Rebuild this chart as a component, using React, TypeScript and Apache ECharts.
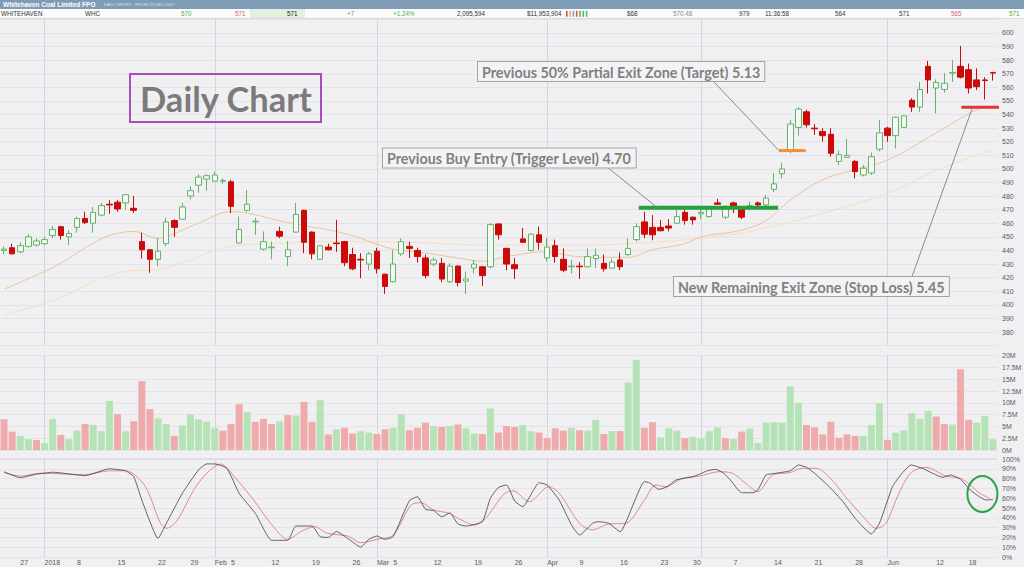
import React, { useEffect, useRef } from 'react';
import * as echarts from 'echarts';

// ---------- DATA ----------
const dates = [
  '2017-12-21','2017-12-22','2017-12-27','2017-12-28','2017-12-29',
  '2018-01-02','2018-01-03','2018-01-04','2018-01-05',
  '2018-01-08','2018-01-09','2018-01-10','2018-01-11','2018-01-12',
  '2018-01-15','2018-01-16','2018-01-17','2018-01-18','2018-01-19',
  '2018-01-22','2018-01-23','2018-01-24','2018-01-25',
  '2018-01-29','2018-01-30','2018-01-31',
  '2018-02-01','2018-02-02',
  '2018-02-05','2018-02-06','2018-02-07','2018-02-08','2018-02-09',
  '2018-02-12','2018-02-13','2018-02-14','2018-02-15','2018-02-16',
  '2018-02-19','2018-02-20','2018-02-21','2018-02-22','2018-02-23',
  '2018-02-26','2018-02-27','2018-02-28',
  '2018-03-01','2018-03-02',
  '2018-03-05','2018-03-06','2018-03-07','2018-03-08','2018-03-09',
  '2018-03-12','2018-03-13','2018-03-14','2018-03-15','2018-03-16',
  '2018-03-19','2018-03-20','2018-03-21','2018-03-22','2018-03-23',
  '2018-03-26','2018-03-27','2018-03-28','2018-03-29',
  '2018-04-03','2018-04-04','2018-04-05','2018-04-06',
  '2018-04-09','2018-04-10','2018-04-11','2018-04-12','2018-04-13',
  '2018-04-16','2018-04-17','2018-04-18','2018-04-19','2018-04-20',
  '2018-04-23','2018-04-24','2018-04-26','2018-04-27',
  '2018-04-30',
  '2018-05-01','2018-05-02','2018-05-03','2018-05-04',
  '2018-05-07','2018-05-08','2018-05-09','2018-05-10','2018-05-11',
  '2018-05-14','2018-05-15','2018-05-16','2018-05-17','2018-05-18',
  '2018-05-21','2018-05-22','2018-05-23','2018-05-24','2018-05-25',
  '2018-05-28','2018-05-29','2018-05-30','2018-05-31',
  '2018-06-01',
  '2018-06-04','2018-06-05','2018-06-06','2018-06-07','2018-06-08',
  '2018-06-12','2018-06-13','2018-06-14','2018-06-15',
  '2018-06-18','2018-06-19','2018-06-20','2018-06-21',
];

const opens = [
  440,442,439,443,444,445,451,457.5,450,457,
  463.5,460,466,474,475.5,475,471,446.5,440.5,433.5,
  445,462,463,480,488,492.5,491,491,490.5,445.5,
  469.5,461,441,442,454,435.5,453.5,469.5,453.5,433.5,
  442.5,445.5,446.5,437,433.5,430,439.5,422.5,417,437.5,
  443,440,434.5,430,430.5,417,428.5,417.5,427,428,
  428,459.5,441.5,429.5,448.5,440,451.5,434.5,443.5,433.5,
  428,428.5,428,434,430.5,427,433,437,448,461,
  457,457,458,460,468,464.5,467,465,475,464.5,
  475,470,472,475,473.5,485,496.5,513.5,530.5,542,
  530,527.5,525.5,505.5,508.5,505.5,495.5,497,514.5,530,
  524.5,530.5,550.5,545.5,575.5,559.5,558.5,570.5,575.5,573,
  565.5,565.5,571,
];
const highs = [
  443,445,446,452,449,450,458,458,455,465,
  468.5,472,475,477,477,481.5,480,453,441,449,
  464,463,475,487,496,496,498,493,492,465,
  484.5,464,454,446.5,457.5,447,475,470,454,444,
  445,462.5,447,442,438,439,442,423,440.5,449,
  446.5,442,437,435,434.5,430.5,429,424.5,433,428.5,
  460,460,442,434.5,456.5,452.5,457.5,449,448,441.5,
  433,431.5,441.5,441.5,437,434,438.5,449,460,468.5,
  466,462.5,463,470,470,465,472,472,478,473,
  476,472,476,476,481,497,504.5,536,545.5,543.5,
  533,530,530,513.5,522,506.5,503,512,536,531,
  538.5,539.5,552,564,579.5,566,570.5,580,590.5,577.5,
  574,567.5,571,
];
const lows = [
  437,437,438,442,443,444,449,448,444,453,
  459.5,453,465,467,468.5,470,467.5,434,423.5,428.5,
  443,450,462.5,477.5,482.5,484,490.5,489,467.5,445,
  468.5,451.5,440,433.5,449,428.5,453,438,433.5,433,
  440,439,428.5,425.5,419.5,425.5,423,408,416.5,436,
  434.5,431,419.5,428.5,416.5,416,413.5,408,423,414,
  427,448,425.5,419,446,439.5,440.5,432,431,424,
  423,419,427.5,427,424.5,426.5,425.5,436,446.5,449,
  447.5,454,454,459.5,459,459,463,464,473.5,463,
  467.5,463,469.5,471,472,483,493,511.5,524.5,530.5,
  525,520,509,503,508,493,494.5,495.5,513,520,
  515,530.5,542,542,555.5,541,556,564,566.5,555.5,
  558,551,565,
];
const closes = [
  441,437.5,443.5,450,447,448,455.5,451,452.5,463.5,
  460.5,468,473,473.5,470.5,481,469.5,440.5,433.5,439.5,
  461,457,472,484,494,495,495.5,491.5,472.5,455.5,
  474,461.5,446.5,442.5,450.5,440.5,466.5,446,437.5,443.5,
  440.5,445,431,426.5,433,437.5,426.5,413.5,430,446.5,
  441.5,435.5,421.5,433,419,428.5,416.5,419,430,421.5,
  459,451.5,430,426.5,446,452,446,442.5,435.5,425.5,
  428.5,428,435.5,436.5,426.5,431.5,428,441.5,457.5,452,
  451.5,454.5,456.5,465,462,462.5,468,470.5,474,470.5,
  472,464.5,473,473.5,478.5,489,500,533,544,532.5,
  529.5,524.5,511.5,510.5,510,498,500.5,509,526.5,524.5,
  538,539,545.5,558.5,565.5,563.5,563,571,567.5,559.5,
  560.5,565,570.5,
];

// volume in millions of shares
const volumesM = [
  6.5,3.9,3.0,2.3,2.1,1.5,6.6,3.2,2.3,4.1,
  5.5,5.3,4.0,10.4,7.6,4.0,6.1,14.6,8.7,6.7,
  5.5,3.0,5.2,7.6,6.5,6.0,4.7,4.1,5.5,9.7,
  8.1,6.0,6.6,5.5,6.1,7.4,7.3,10.2,6.0,10.6,
  3.3,4.4,4.7,3.5,4.0,3.7,3.4,4.4,4.7,7.6,
  4.2,4.7,5.8,5.1,4.9,5.1,5.4,4.6,3.5,3.4,
  8.8,3.7,5.1,4.9,5.3,4.0,3.7,2.5,4.6,4.1,
  4.7,4.2,4.1,6.4,3.4,4.0,4.0,14.3,19.1,4.7,
  5.9,2.7,4.6,4.1,2.5,2.8,2.5,4.0,4.8,2.5,
  2.3,3.9,4.5,1.5,5.8,5.9,5.8,13.5,10.0,5.3,
  4.8,3.3,6.0,2.6,3.3,3.0,3.0,5.3,9.9,2.1,
  3.7,4.2,7.8,6.6,8.3,7.1,5.5,5.4,17.1,6.4,
  5.8,7.2,2.3,
];

// moving averages: [bar index, price]
const maShort = [
  [0,411.5],[5,424.5],[16,454],[19,449],[20,450],[24,460],[28,468.5],[30,467.5],
  [35,460.5],[42,452.5],[48,441],[51,439],[57,433.5],[59,432],[62,435.5],[67,439],
  [70,436],[74,435],[77,435],[80,440.5],[84,445],[86,450],[91,455],[94,462],
  [97,477],[101,492],[105,499.5],[109,506.5],[115,526.5],[120,543.5],[122,546],
];
const maLong = [
  [0,392.5],[5,401],[17,425.5],[18,425.5],[23,433],[27,442],[33,445],[42,446.5],
  [50,446],[60,444],[70,444],[80,446],[90,452],[95,458],[98,462.5],[109,482],
  [115,499],[122,514],
];

// stochastic: [bar index, %]
const stochK = [
  [0,87],[2,81],[4,84.5],[6,86.5],[10,83],[13,90],[15,88],[16,82],[17,58],[19,19],
  [20,34],[22,65],[24,89],[25,95],[26,95],[27.5,90.5],[29,65],[31,44.6],[33,17],[35,17],
  [36,31.6],[38,31.6],[39,20.7],[40,20],[41,26],[42.4,19],[44,10],[45,18],[46,21.5],[47,18],
  [48,20.7],[50,57.5],[51,61.5],[52,48.6],[53,47.3],[54,41],[55,45],[56,33.7],[57,31.6],[59,36],
  [60,60],[61,71],[62,73.5],[63,57],[64,51.3],[66,75.8],[67,73.5],[68.5,58],[70,32.7],[71,22.4],
  [72.6,34.4],[73.3,36],[74.6,34.4],[76,25.8],[79,76.9],[79.6,75.8],[80.8,69],[81.8,71.7],[82.9,78.6],[85,82],
  [86.8,88],[87.8,89.5],[88.8,85.4],[89.6,78.6],[91,65.6],[92.4,65.6],[93,68.4],[94,83.7],[95.2,85.4],[97,88],
  [98,93.9],[99,91.5],[100,85.4],[101.8,71.7],[103.5,56.5],[105,39.5],[107,23.5],[108,34.4],[109.6,71.7],[110.6,83.7],
  [111.9,93.9],[113.3,90.5],[115.8,81.3],[116.8,83.7],[118,79.3],[119.2,68.4],[120.3,61.6],[121.1,58.2],[122,58.5],
];
const stochD = [
  [0,86],[2,82.6],[4.5,85.4],[10,84],[13,88],[15,88],[16.4,82],[17.7,68],[19.3,34.4],[20.1,29.3],
  [21.4,37.8],[23.4,68.4],[25,85.4],[26.7,94.9],[28.4,82],[30.8,58],[32.9,34.4],[35,18],[36.6,25.8],[38.3,31],
  [39.9,24.1],[42.4,21.4],[44,14.6],[46,18],[48,22.4],[50.2,53],[51.4,55.4],[53,48],[54.9,44.6],[56.4,37.8],
  [58,32.7],[59.3,38.4],[60.5,51.3],[61.7,64.3],[62.8,67.5],[64.8,56.5],[67.2,71.7],[68.5,65],[71,34.4],[72.6,27.6],
  [74.6,33.7],[76.7,34.4],[79,58],[80.4,73.5],[81.6,71.7],[83.7,80.3],[85.8,82.6],[88.2,87],[89.9,85.4],[91.5,75.2],
  [93,66.7],[94.8,83.7],[96.9,86],[98.5,90.5],[100.2,90.5],[102.2,77.9],[103.8,61.6],[106,41.1],[107.6,29.3],[108.8,34.4],
  [110.4,65],[111.9,86],[113.7,91.5],[116.2,82.6],[118,80.3],[119.2,73.5],[120.4,65],[121.6,59.9],
];

const tickLabels = [
  ['2017-12-27','27'],['2018-01-02','2018'],['2018-01-08','8'],['2018-01-15','15'],['2018-01-22','22'],
  ['2018-01-29','29'],['2018-02-01','Feb'],['2018-02-05','5'],['2018-02-12','12'],['2018-02-19','19'],
  ['2018-02-26','26'],['2018-03-01','Mar'],['2018-03-05','5'],['2018-03-12','12'],['2018-03-19','19'],
  ['2018-03-26','26'],['2018-04-03','Apr'],['2018-04-09','9'],['2018-04-16','16'],['2018-04-23','23'],
  ['2018-04-30','30'],['2018-05-07','7'],['2018-05-14','14'],['2018-05-21','21'],['2018-05-28','28'],
  ['2018-06-01','Jun'],['2018-06-12','12'],['2018-06-18','18'],
];
const monthStarts = ['2018-01-02','2018-02-01','2018-03-01','2018-04-03','2018-05-01','2018-06-01'];

// trade levels: [from bar, to bar, price]
const triggerLevel = [78.3, 95.5, 471.5];
const targetLevel = [95.6, 98.9, 513.5];
const stopLevel = [118.1, 123.0, 545.4];
// annotation anchors on the level lines [bar, price]
const triggerAnchor = [80.6, 471.5];
const targetAnchor = [95.6, 513.5];
const stopAnchor = [119.5, 545.4];
const stochCircle = [120.7, 64.3];

// ---------- STYLE ----------
const BG = '#f0f0f3';
const GRID = '#e3e3e8';
const MONTH_LINE = '#d5d6db';
const UP = '#62b566';
const UP_FILL = '#f5f6f5';
const DOWN = '#cc0a0a';
const VOL_UP = '#b6e3b5';
const VOL_DOWN = '#efaaab';
const AXIS_TEXT = '#5a5a5a';
const AXIS_FONT = 'Liberation Sans';
const ANNO_FONT = 'bold 14.3px Lato';
const ANNO_COLOR = '#808080';

const N = dates.length;
const SI_MA_LONG = 1;
const SI_STOCH_D = 7;

function buildOption() {
  const candles = dates.map((_, i) => [opens[i], closes[i], lows[i], highs[i]]);
  const vols = volumesM.map((v, i) => ({
    value: v * 1e6,
    itemStyle: { color: i > 0 && closes[i] > closes[i - 1] ? VOL_UP : VOL_DOWN },
  }));
  const labelMap = new Map();
  tickLabels.forEach(([d, t]) => labelMap.set(dates.indexOf(d), t));
  const markBase = {
    silent: true,
    symbol: ['none', 'none'],
    label: { show: false },
    lineStyle: { color: MONTH_LINE, width: 1, type: 'solid' },
    emphasis: { disabled: true },
    z: 1,
    animation: false,
  };
  const gridBase = { left: 0, width: 997, containLabel: false, outerBoundsMode: 'none' };
  const catAxis = (gridIndex, showLabel) => ({
    type: 'category',
    gridIndex,
    data: dates,
    boundaryGap: true,
    axisLine: { show: false },
    axisTick: { show: false },
    splitLine: { show: false },
    axisLabel: showLabel
      ? {
          show: true,
          interval: (idx) => labelMap.has(idx),
          formatter: (_v, idx) => labelMap.get(idx) ?? '',
          align: 'left',
          margin: 2,
          fontSize: 7,
          fontFamily: AXIS_FONT,
          color: AXIS_TEXT,
        }
      : { show: false },
  });
  const valX = (gridIndex) => ({
    type: 'value', gridIndex, min: -0.5, max: N - 0.5, show: false, splitLine: { show: false },
  });
  const yLabel = (formatter) => ({
    margin: 5, fontSize: 7, fontFamily: AXIS_FONT, color: AXIS_TEXT, formatter,
  });
  const levelSeries = (lv, color, width) => ({
    type: 'line',
    xAxisIndex: 3,
    yAxisIndex: 0,
    data: [[lv[0], lv[2]], [lv[1], lv[2]]],
    symbol: 'none',
    clip: false,
    silent: true,
    lineStyle: { color, width },
    z: 6,
  });

  return {
    animation: false,
    backgroundColor: BG,
    grid: [
      { ...gridBase, top: 19.4, height: 326.2 },
      { ...gridBase, top: 355.7, height: 94.3 },
      { ...gridBase, top: 459, height: 98 },
    ],
    xAxis: [catAxis(0, false), catAxis(1, false), catAxis(2, true), valX(0), valX(2)],
    yAxis: [
      {
        type: 'value', gridIndex: 0, position: 'right', min: 370, max: 610, interval: 10,
        axisLine: { show: false }, axisTick: { show: false },
        splitLine: { lineStyle: { color: GRID, width: 1 } },
        axisLabel: yLabel((v) => (v < 380 || v > 600 ? '' : String(v))),
      },
      {
        type: 'value', gridIndex: 1, position: 'right', min: 0, max: 20e6, interval: 2.5e6,
        axisLine: { show: false }, axisTick: { show: false },
        splitLine: { lineStyle: { color: GRID, width: 1 } },
        axisLabel: yLabel((v) => `${v / 1e6}M`),
      },
      {
        type: 'value', gridIndex: 2, position: 'right', min: 0, max: 100, interval: 10,
        axisLine: { show: false }, axisTick: { show: false },
        splitLine: { lineStyle: { color: GRID, width: 1 } },
        axisLabel: yLabel((v) => `${v}%`),
      },
    ],
    series: [
      {
        type: 'candlestick',
        xAxisIndex: 0,
        yAxisIndex: 0,
        data: candles,
        barWidth: 6,
        z: 3,
        silent: true,
        itemStyle: {
          color: UP_FILL, color0: DOWN, borderColor: UP, borderColor0: DOWN, borderWidth: 1,
        },
        markLine: { ...markBase, data: monthStarts.map((d) => ({ xAxis: d })) },
      },
      {
        type: 'line', xAxisIndex: 3, yAxisIndex: 0, data: maLong, symbol: 'none', smooth: 0.4,
        silent: true, z: 2, lineStyle: { color: '#f7dfbc', width: 1 },
      },
      {
        type: 'line', xAxisIndex: 3, yAxisIndex: 0, data: maShort, symbol: 'none', smooth: 0.4,
        silent: true, z: 2, lineStyle: { color: '#eac59a', width: 1 },
      },
      levelSeries(triggerLevel, '#23a23c', 4),
      levelSeries(targetLevel, '#f39035', 3),
      levelSeries(stopLevel, '#e2333a', 3),
      {
        type: 'bar',
        xAxisIndex: 1,
        yAxisIndex: 1,
        data: vols,
        barWidth: 7,
        silent: true,
        z: 2,
        markLine: { ...markBase, data: monthStarts.map((d) => ({ xAxis: d })) },
      },
      {
        type: 'line', xAxisIndex: 4, yAxisIndex: 2, data: stochD, symbol: 'none', smooth: 0.3,
        silent: true, z: 2, lineStyle: { color: '#e27d7d', width: 0.9 },
        markLine: { ...markBase, data: monthStarts.map((d) => ({ xAxis: dates.indexOf(d) })) },
      },
      {
        type: 'line', xAxisIndex: 4, yAxisIndex: 2, data: stochK, symbol: 'none', smooth: 0.15,
        silent: true, z: 3, lineStyle: { color: '#404040', width: 0.8 },
      },
    ],
  };
}

const headerCells = [
  ['WHITEHAVEN', 1, '#333333'], ['WHC', 85, '#333333'], ['570', 181, '#4caf50'],
  ['571', 235, '#d0607a'], ['571', 287, '#222222'], ['+7', 347, '#4caf50'],
  ['+1.24%', 393, '#4caf50'], ['2,095,594', 457, '#333333'], ['$11,953,904', 527, '#333333'],
  ['$68', 627, '#333333'], ['570.48', 673, '#8a8a8a'], ['979', 739, '#333333'],
  ['11:36:58', 765, '#333333'], ['564', 835, '#333333'], ['571', 899, '#333333'],
  ['565', 951, '#d0607a'], ['571', 1009, '#4caf50'],
];

function buildGraphic(chart) {
  const pxPrice = (pt) => chart.convertToPixel({ seriesIndex: SI_MA_LONG }, pt);
  const pxStoch = (pt) => chart.convertToPixel({ seriesIndex: SI_STOCH_D }, pt);
  const trig = pxPrice(triggerAnchor);
  const targ = pxPrice(targetAnchor);
  const stop = pxPrice(stopAnchor);
  const circ = pxStoch(stochCircle);
  const els = [];
  // header
  els.push({ type: 'rect', shape: { x: 0, y: 0, width: 1024, height: 9 }, style: { fill: '#7e9cb6' }, z: 100 });
  els.push({ type: 'rect', shape: { x: 0, y: 9, width: 1024, height: 9.4 }, style: { fill: '#fbfbfb' }, z: 100 });
  els.push({ type: 'rect', shape: { x: 250, y: 9, width: 55, height: 9.4 }, style: { fill: '#e2f1dd' }, z: 100 });
  els.push({ type: 'line', shape: { x1: 0, y1: 18.4, x2: 1024, y2: 18.4 }, style: { stroke: '#d9d9dc', lineWidth: 1 }, z: 100 });
  els.push({
    type: 'text', x: 3, y: 4.6, z: 101,
    style: { text: 'Whitehaven Coal Limited FPO', font: 'bold 6.5px "Liberation Sans"', fill: '#ffffff', verticalAlign: 'middle' },
  });
  els.push({
    type: 'text', x: 104, y: 4.8, z: 101,
    style: { text: 'DAILY ENTRY , FROM 22 DEC 2017', font: '4.3px "Liberation Sans"', fill: '#dfe7ef', verticalAlign: 'middle' },
  });
  headerCells.forEach(([t, x, c]) => {
    els.push({
      type: 'text', x, y: 13.8, z: 101,
      style: { text: t, font: '6.3px "Liberation Sans"', fill: c, verticalAlign: 'middle' },
    });
  });
  const miniBars = ['#e05252', '#f0a0a0', '#a0a0a0', '#e05252', '#5cb85c', '#5cb85c', '#5cb85c'];
  miniBars.forEach((c, i) => {
    els.push({ type: 'rect', shape: { x: 566 + i * 3.3, y: 10.8, width: 1.6, height: 6 }, style: { fill: c }, z: 101 });
  });
  // separator above stochastic
  els.push({ type: 'line', shape: { x1: 0, y1: 459, x2: 997, y2: 459 }, style: { stroke: '#d2d3d8', lineWidth: 1 }, z: 50 });

  // "Daily Chart" box
  els.push({
    type: 'rect', shape: { x: 130, y: 74, width: 191, height: 48 },
    style: { fill: 'none', stroke: '#a54db8', lineWidth: 2 }, z: 60,
  });
  els.push({
    type: 'text', x: 226, y: 98, z: 61,
    style: { text: 'Daily Chart', font: 'bold 34.5px Lato', fill: '#7b7b7b', align: 'center', verticalAlign: 'middle' },
  });

  const box = (text, x, y) => ({
    type: 'text', x, y, z: 61,
    style: {
      text, font: ANNO_FONT, fill: ANNO_COLOR, backgroundColor: '#f3f3f5',
      borderColor: '#a3a3a3', borderWidth: 1, padding: [2, 4, 1, 4], lineHeight: 16,
    },
  });
  // connectors
  els.push({ type: 'line', shape: { x1: 713, y1: 81, x2: targ[0], y2: targ[1] }, style: { stroke: '#8a8a8a', lineWidth: 1 }, z: 55 });
  els.push({ type: 'line', shape: { x1: 607, y1: 167, x2: trig[0], y2: trig[1] }, style: { stroke: '#8a8a8a', lineWidth: 1 }, z: 55 });
  els.push({ type: 'line', shape: { x1: 911.7, y1: 277.5, x2: stop[0], y2: stop[1] }, style: { stroke: '#8a8a8a', lineWidth: 1 }, z: 55 });
  els.push(box('Previous 50% Partial Exit Zone (Target) 5.13', 478, 62));
  els.push(box('Previous Buy Entry (Trigger Level) 4.70', 383, 148.5));
  els.push(box('New Remaining Exit Zone (Stop Loss) 5.45', 674, 277));

  // stochastic circle
  els.push({
    type: 'ellipse', shape: { cx: circ[0], cy: circ[1], rx: 15, ry: 18 },
    style: { fill: 'none', stroke: '#2ea346', lineWidth: 2 }, z: 60,
  });
  return els;
}

export default function App() {
  const ref = useRef(null);
  useEffect(() => {
    if (!ref.current) return;
    const chart = echarts.init(ref.current, null, { renderer: 'svg', width: 1024, height: 567 });
    chart.setOption(buildOption());
    chart.setOption({ graphic: buildGraphic(chart) });
    return () => chart.dispose();
  }, []);
  return (
    <div
      ref={ref}
      style={{ position: 'absolute', left: 0, top: 0, width: 1024, height: 567, overflow: 'hidden' }}
    />
  );
}
